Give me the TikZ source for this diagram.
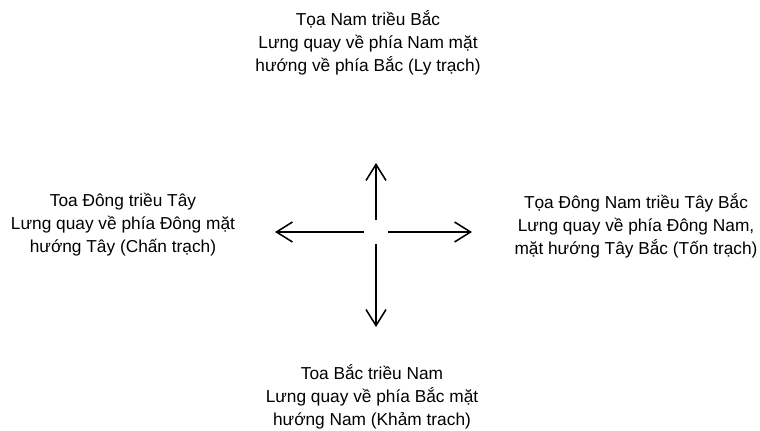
\documentclass[tikz,border=0pt]{standalone}
\usepackage{fontspec}
\setmainfont{Liberation Sans}
\usetikzlibrary{arrows.meta}

\tikzset{
	huong/.style={align=center, inner sep=0pt, font=\fontsize{12.3}{16.4}\selectfont},
	muiten/.style={-{Straight Barb[length=4mm, width=5mm]}, line width=1.1pt}
}

\begin{document}
\begin{tikzpicture}

	\useasboundingbox (0,0) rectangle (19,-10.775);

	\node[circle, minimum size=0.6cm, inner sep=0pt] (tam) at (9.4,-5.8) {};
	\coordinate (bac) at (9.4,-4.075);
	\coordinate (nam) at (9.4,-8.175);
	\coordinate (tay) at (6.875,-5.8);
	\coordinate (dong) at (11.8,-5.8);

	\draw[muiten] (tam) -- (bac);
	\draw[muiten] (tam) -- (nam);
	\draw[muiten] (tam) -- (tay);
	\draw[muiten] (tam) -- (dong);

	\node[huong] (ly) at (9.2,-1.065) {Tọa Nam triều Bắc\\Lưng quay về phía Nam mặt\\hướng về phía Bắc (Ly trạch)};
	\node[huong] (chan) at (3.075,-5.615) {Toa Đông triều Tây\\Lưng quay về phía Đông mặt\\hướng Tây (Chấn trạch)};
	\node[huong] (ton) at (15.9,-5.64) {Tọa Đông Nam triều Tây Bắc\\Lưng quay về phía Đông Nam,\\mặt hướng Tây Bắc (Tốn trạch)};
	\node[huong] (kham) at (9.3,-9.915) {Toa Bắc triều Nam\\Lưng quay về phía Bắc mặt\\hướng Nam (Khảm trach)};

\end{tikzpicture}
\end{document}
